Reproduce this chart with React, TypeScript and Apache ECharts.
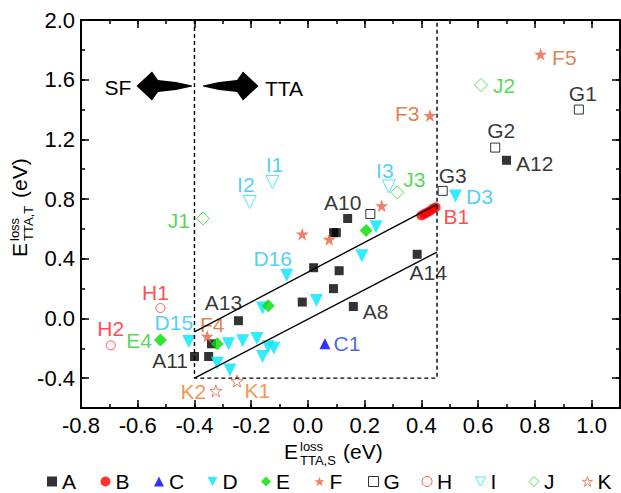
import React, { useEffect, useRef } from 'react';
import * as echarts from 'echarts';

const FONT = '"Liberation Sans", Arial, Helvetica, sans-serif';

// ---- data ----
const SERIES_NAMES = ['A', 'B', 'C', 'D', 'E', 'F', 'G', 'H', 'I', 'J', 'K'];

const A_POINTS = [[0.70, 1.06], [0.14, 0.67], [0.09, 0.575], [0.10, 0.575], [0.02, 0.34], [0.11, 0.32], [0.09, 0.20], [-0.02, 0.11], [0.16, 0.08], [0.385, 0.43], [-0.245, -0.015], [-0.40, -0.255], [-0.35, -0.255], [-0.34, -0.17]];
const A_LABELS = ['A12', 'A10', '', '', '', '', '', '', 'A8', 'A14', 'A13', 'A11', '', ''];

const B_POINTS = [[0.40, 0.69], [0.41, 0.70], [0.42, 0.71], [0.43, 0.72], [0.44, 0.735], [0.45, 0.745]];
const B_LABELS = ['', '', '', '', '', 'B1'];

const C_POINTS = [[0.06, -0.17]];
const C_LABELS = ['C1'];

const D_POINTS = [[0.52, 0.82], [-0.075, 0.29], [0.24, 0.615], [0.19, 0.42], [0.03, 0.12], [-0.42, -0.155], [-0.28, -0.17], [-0.23, -0.15], [-0.18, -0.135], [-0.14, -0.19], [-0.12, -0.20], [-0.16, -0.255], [-0.32, -0.30], [-0.275, -0.345], [-0.16, 0.07]];
const D_LABELS = ['D3', 'D16', '', '', '', 'D15', '', '', '', '', '', '', '', '', ''];

const E_POINTS = [[-0.52, -0.145], [-0.32, -0.17], [-0.14, 0.085], [0.205, 0.59]];
const E_LABELS = ['E4', '', '', ''];

const F_POINTS = [[0.82, 1.77], [0.43, 1.36], [0.26, 0.755], [-0.02, 0.565], [0.075, 0.53], [-0.355, -0.12]];
const F_LABELS = ['F5', 'F3', '', '', '', 'F4'];

const G_POINTS = [[0.955, 1.40], [0.66, 1.145], [0.475, 0.855], [0.22, 0.70]];
const G_LABELS = ['G1', 'G2', 'G3', ''];

const H_POINTS = [[-0.52, 0.07], [-0.695, -0.18]];
const H_LABELS = ['H1', 'H2'];

const I_POINTS = [[-0.125, 0.915], [-0.205, 0.78], [0.285, 0.885]];
const I_LABELS = ['I1', 'I2', 'I3'];

const J_POINTS = [[-0.37, 0.67], [0.61, 1.565], [0.315, 0.845]];
const J_LABELS = ['J1', 'J2', 'J3'];

const K_POINTS = [[-0.25, -0.42], [-0.325, -0.485]];
const K_LABELS = ['K1', 'K2'];

const FIT_UPPER = [[-0.4, -0.09], [0.455, 0.765]];
const FIT_LOWER = [[-0.4, -0.4], [0.455, 0.445]];
const REGION_BOX = [[-0.4, 2.0], [-0.4, -0.4], [0.455, -0.4], [0.455, 2.0]];

const X_MIN = -0.8;
const X_MAX = 1.1;
const Y_MIN = -0.6;
const Y_MAX = 2.0;
const X_MAJOR_TICKS = [-0.8, -0.6, -0.4, -0.2, 0, 0.2, 0.4, 0.6, 0.8, 1.0];
const Y_MAJOR_TICKS = [-0.4, 0, 0.4, 0.8, 1.2, 1.6, 2.0];

// ---- styles ----
const STAR = 'path://M50,2 L61.8,38.2 L99.5,38.2 L69,60.6 L80.6,96.8 L50,74.4 L19.4,96.8 L31,60.6 L0.5,38.2 L38.2,38.2 Z';
const DOWN_TRI = 'path://M0,0 L100,0 L50,90 Z';

const STYLE: Record<string, any> = {
  A: { symbol: 'rect', size: 9, fill: '#000000', label: '#000000' },
  B: { symbol: 'circle', size: 10, fill: '#ff0000', label: '#ff1a1a' },
  C: { symbol: 'triangle', size: 11, fill: '#0000ff', label: '#1c3fd0' },
  D: { symbol: DOWN_TRI, size: 13, fill: '#00e6ff', label: '#1fc4f2' },
  E: { symbol: 'diamond', size: 13, fill: '#00dd00', label: '#2ccc2c' },
  F: { symbol: STAR, size: 13, fill: '#e9603f', label: '#d5621e' },
  G: { symbol: 'rect', size: 9, fill: '#ffffff', stroke: '#000000', label: '#000000' },
  H: { symbol: 'circle', size: 9, fill: '#ffffff', stroke: '#ff3030', label: '#ff2020' },
  I: { symbol: DOWN_TRI, size: 13, fill: '#ffffff', stroke: '#1ee3f8', label: '#1fc4f2' },
  J: { symbol: 'diamond', size: 13, fill: '#ffffff', stroke: '#22dd22', label: '#2ccc2c' },
  K: { symbol: STAR, size: 12, fill: '#ffffff', stroke: '#e9603f', label: '#f27a22' },
};

const LABEL_PLACE: Record<string, [string, number[]]> = {
  A12: ['right', [0, 3]], A10: ['top', [-5, 4]], A8: ['right', [0, 5]], A14: ['bottom', [11, -2]],
  A13: ['top', [-15, 2]], A11: ['left', [3, 4]], B1: ['right', [-2, 9]], C1: ['right', [-2, 0]],
  D3: ['right', [-1, 0]], D16: ['top', [-14, 5]], D15: ['top', [-15, 3]], E4: ['left', [3, 0]],
  F3: ['left', [1, -2]], F4: ['top', [5, 10]], F5: ['right', [0, 3]],
  G1: ['top', [4, 4]], G2: ['top', [6, 3]], G3: ['top', [10, 5]],
  H1: ['top', [-5, 5]], H2: ['top', [0, 4]],
  I1: ['top', [2, 5]], I2: ['top', [-4, 5]], I3: ['top', [-4, 7]],
  J1: ['left', [-1, 2]], J2: ['right', [0, 1]], J3: ['right', [-6, -13]],
  K1: ['right', [-4, 9]], K2: ['left', [2, 1]],
};

const POINTS: Record<string, number[][]> = {
  A: A_POINTS, B: B_POINTS, C: C_POINTS, D: D_POINTS, E: E_POINTS, F: F_POINTS,
  G: G_POINTS, H: H_POINTS, I: I_POINTS, J: J_POINTS, K: K_POINTS,
};
const LABELS: Record<string, string[]> = {
  A: A_LABELS, B: B_LABELS, C: C_LABELS, D: D_LABELS, E: E_LABELS, F: F_LABELS,
  G: G_LABELS, H: H_LABELS, I: I_LABELS, J: J_LABELS, K: K_LABELS,
};

function scatterSeries(name: string) {
  const st = STYLE[name];
  const data = POINTS[name].map((p, i) => {
    const lab = LABELS[name][i];
    const item: any = { value: p };
    if (lab) {
      const [pos, off] = LABEL_PLACE[lab];
      item.label = {
        show: true, formatter: lab, position: pos, offset: off, distance: 5,
        color: st.label, fontSize: 21, fontFamily: FONT,
      };
    }
    return item;
  });
  return {
    type: 'scatter', name, xAxisIndex: 0, yAxisIndex: 0,
    symbol: st.symbol, symbolSize: st.size,
    itemStyle: st.stroke
      ? { color: st.fill, borderColor: st.stroke, borderWidth: 1 }
      : { color: st.fill },
    label: { show: false },
    emphasis: { disabled: true },
    data,
  };
}

function lineSeries(data: number[][], dashed: boolean) {
  return {
    type: 'line', xAxisIndex: 0, yAxisIndex: 0, data, symbol: 'none', silent: true,
    lineStyle: { color: '#000', width: 1.4, type: dashed ? [4, 3] : 'solid' },
    emphasis: { disabled: true },
  };
}

const majorX = (pos: string, labels: boolean) => ({
  type: 'value', position: pos, min: X_MIN, max: X_MAX,
  axisLine: { show: true, onZero: false, lineStyle: { color: '#000', width: 2 } },
  axisTick: { show: true, inside: true, length: 8, customValues: X_MAJOR_TICKS, lineStyle: { color: '#000', width: 1.5 } },
  axisLabel: {
    show: labels, customValues: X_MAJOR_TICKS, formatter: (v: number) => v.toFixed(1),
    color: '#000', fontSize: 22, fontFamily: FONT, margin: 6,
  },
  splitLine: { show: false },
});
const minorX = (pos: string) => ({
  type: 'value', position: pos, min: X_MIN, max: X_MAX, interval: 0.1,
  axisLine: { show: false, onZero: false },
  axisTick: { show: true, inside: true, length: 4, lineStyle: { color: '#000', width: 1.5 } },
  axisLabel: { show: false }, splitLine: { show: false },
});
const majorY = (pos: string, labels: boolean) => ({
  type: 'value', position: pos, min: Y_MIN, max: Y_MAX,
  axisLine: { show: true, onZero: false, lineStyle: { color: '#000', width: 2 } },
  axisTick: { show: true, inside: true, length: 8, customValues: Y_MAJOR_TICKS, lineStyle: { color: '#000', width: 1.5 } },
  axisLabel: {
    show: labels, customValues: Y_MAJOR_TICKS, formatter: (v: number) => v.toFixed(1),
    color: '#000', fontSize: 22, fontFamily: FONT, margin: 6,
  },
  splitLine: { show: false },
});
const minorY = (pos: string) => ({
  type: 'value', position: pos, min: Y_MIN, max: Y_MAX, interval: 0.2,
  axisLine: { show: false, onZero: false },
  axisTick: { show: true, inside: true, length: 4, lineStyle: { color: '#000', width: 1.5 } },
  axisLabel: { show: false }, splitLine: { show: false },
});

const textEl = (text: string, x: number, y: number, size: number, align = 'left') => ({
  type: 'text', x, y,
  style: {
    text, fontSize: size, fontFamily: FONT, fill: '#000',
    align, textAlign: align, verticalAlign: 'middle', textVerticalAlign: 'middle',
  },
});

const axisTitle = (sub: string) => [
  textEl('E', 0, 0, 21),
  textEl('loss', 16, -5, 13),
  textEl(sub, 16, 9, 13),
  textEl('(eV)', 59, 0, 21),
];

function buildOption() {
  const legends = SERIES_NAMES.map((name, i) => ({
    data: [name], left: 47 + i * 53.5, top: 471, padding: 0,
    itemWidth: 10, itemHeight: 10, itemGap: 0, selectedMode: false,
    itemStyle: STYLE[name].stroke ? { borderWidth: 1 } : { borderWidth: 0 },
    textStyle: { fontSize: 21, color: '#000', fontFamily: FONT },
  }));
  return {
    animation: false,
    backgroundColor: '#ffffff',
    grid: { left: 81, right: 1, top: 20, bottom: 85, outerBoundsMode: 'none' },
    xAxis: [majorX('bottom', true), majorX('top', false), minorX('bottom'), minorX('top')],
    yAxis: [majorY('left', true), majorY('right', false), minorY('left'), minorY('right')],
    legend: legends,
    graphic: [
      { type: 'polygon', shape: { points: [[136.5, 86], [152, 71.5], [158, 80], [176, 82], [192, 85.4], [192, 86.6], [176, 90], [158, 92], [152, 100.5]] }, style: { fill: '#000' } },
      { type: 'polygon', shape: { points: [[258.5, 86], [243, 71.5], [237, 80], [219, 82], [203, 85.4], [203, 86.6], [219, 90], [237, 92], [243, 100.5]] }, style: { fill: '#000' } },
      textEl('SF', 118, 87, 21, 'center'),
      textEl('TTA', 284, 88, 21, 'center'),
      { type: 'group', x: 284, y: 451, children: axisTitle('TTA,S') },
      { type: 'group', x: 19, y: 257, rotation: Math.PI / 2, children: axisTitle('TTA,T') },
    ],
    series: [
      lineSeries(REGION_BOX, true),
      lineSeries(FIT_UPPER, false),
      lineSeries(FIT_LOWER, false),
      ...SERIES_NAMES.map(scatterSeries),
    ],
  };
}

export default function App() {
  const ref = useRef<HTMLDivElement>(null);
  useEffect(() => {
    const chart = echarts.init(ref.current as HTMLDivElement, null, { renderer: 'svg' });
    chart.setOption(buildOption() as any);
    return () => chart.dispose();
  }, []);
  return (
    <div
      ref={ref}
      style={{ position: 'fixed', left: 0, top: 0, width: 621, height: 493, background: '#fff' }}
    />
  );
}
